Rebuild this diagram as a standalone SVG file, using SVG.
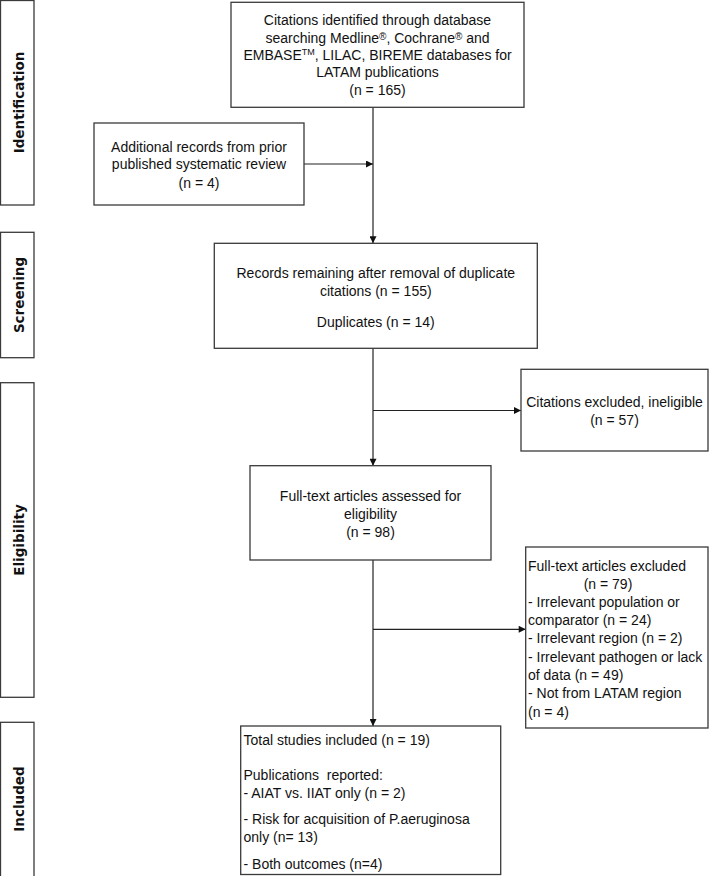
<svg xmlns="http://www.w3.org/2000/svg" width="709" height="876" viewBox="0 0 709 876">
<style>
.box{fill:#fff;stroke:#3a3a3a;stroke-width:1.3}
.lab{fill:#fff;stroke:#3a3a3a;stroke-width:1.3}
.t{font-family:"Liberation Sans",Arial,sans-serif;font-size:14px;fill:#111}
.c{text-anchor:middle}
.sup{font-size:10px}
.side{font-family:"DejaVu Sans",Verdana,sans-serif;font-weight:bold;font-size:13.5px;fill:#111;text-anchor:middle}
.ln{fill:none;stroke:#222;stroke-width:1.2}
</style>
<defs>
<marker id="ah" viewBox="0 0 10 10" refX="10" refY="5" markerWidth="8" markerHeight="7" markerUnits="userSpaceOnUse" orient="auto">
<path d="M0,0 L10,5 L0,10 z" fill="#111"/>
</marker>
</defs>
<rect width="709" height="876" fill="#fff"/>

<g id="lbl-identification">
<rect class="lab" x="0.5" y="0.5" width="33.5" height="204.5"/>
<text class="side" transform="translate(24,102.5) rotate(-90)">Identification</text>
</g>
<g id="lbl-screening">
<rect class="lab" x="0.5" y="232.3" width="33.5" height="125.4"/>
<text class="side" transform="translate(24,295) rotate(-90)">Screening</text>
</g>
<g id="lbl-eligibility">
<rect class="lab" x="0.5" y="382.7" width="33.5" height="314.6"/>
<text class="side" transform="translate(24,540) rotate(-90)">Eligibility</text>
</g>
<g id="lbl-included">
<rect class="lab" x="0.5" y="722.3" width="33.5" height="160"/>
<text class="side" transform="translate(24,799) rotate(-90)">Included</text>
</g>

<g id="connectors">
<line class="ln" x1="373" y1="107.3" x2="373" y2="243.3" marker-end="url(#ah)"/>
<line class="ln" x1="304" y1="164" x2="373" y2="164" marker-end="url(#ah)"/>
<line class="ln" x1="373" y1="348.3" x2="373" y2="465.7" marker-end="url(#ah)"/>
<line class="ln" x1="373" y1="410.5" x2="521" y2="410.5" marker-end="url(#ah)"/>
<line class="ln" x1="373" y1="560" x2="373" y2="726" marker-end="url(#ah)"/>
<line class="ln" x1="373" y1="629.3" x2="525.7" y2="629.3" marker-end="url(#ah)"/>
</g>

<g id="n-identified">
<rect class="box" x="231" y="2.3" width="293" height="105"/>
<text class="t c" x="377.5" y="25">Citations identified through database</text>
<text class="t c" x="377.5" y="42.7">searching Medline<tspan class="sup" dy="-3">®</tspan><tspan dy="3">, Cochrane</tspan><tspan class="sup" dy="-3">®</tspan><tspan dy="3"> and</tspan></text>
<text class="t c" x="377.5" y="60">EMBASE<tspan font-size="9" dy="-5">TM</tspan><tspan dy="5">, LILAC, BIREME databases for</tspan></text>
<text class="t c" x="377.5" y="77.3">LATAM publications</text>
<text class="t c" x="377.5" y="95">(n = 165)</text>
</g>

<g id="n-additional">
<rect class="box" x="94" y="123" width="210" height="82"/>
<text class="t c" x="199" y="151.7">Additional records from prior</text>
<text class="t c" x="199" y="169.3">published systematic review</text>
<text class="t c" x="199" y="187.7">(n = 4)</text>
</g>

<g id="n-screened">
<rect class="box" x="214.3" y="243.3" width="323" height="105"/>
<text class="t c" x="375.8" y="277.7">Records remaining after removal of duplicate</text>
<text class="t c" x="375.8" y="296">citations (n = 155)</text>
<text class="t c" x="375.8" y="326.7">Duplicates (n = 14)</text>
</g>

<g id="n-excluded1">
<rect class="box" x="521" y="369.3" width="187" height="81.7"/>
<text class="t c" x="614.5" y="407">Citations excluded, ineligible</text>
<text class="t c" x="614.5" y="425">(n = 57)</text>
</g>

<g id="n-fulltext">
<rect class="box" x="250" y="465.7" width="241" height="94.3"/>
<text class="t c" x="370.5" y="501">Full-text articles assessed for</text>
<text class="t c" x="370.5" y="519">eligibility</text>
<text class="t c" x="370.5" y="536.7">(n = 98)</text>
</g>

<g id="n-excluded2">
<rect class="box" x="525.7" y="547" width="182.3" height="181"/>
<text class="t" x="528" y="571">Full-text articles excluded</text>
<text class="t c" x="608" y="588.5">(n = 79)</text>
<text class="t" x="528" y="606.7">- Irrelevant population or</text>
<text class="t" x="528" y="625">comparator (n = 24)</text>
<text class="t" x="528" y="643">- Irrelevant region (n = 2)</text>
<text class="t" x="528" y="661.7">- Irrelevant pathogen or lack</text>
<text class="t" x="528" y="680">of data (n = 49)</text>
<text class="t" x="528" y="698">- Not from LATAM region</text>
<text class="t" x="528" y="716.7">(n = 4)</text>
</g>

<g id="n-included">
<rect class="box" x="240.7" y="726" width="260" height="148.5"/>
<text class="t" x="243.5" y="745">Total studies included (n = 19)</text>
<text class="t" x="243.5" y="780" style="white-space:pre">Publications  reported:</text>
<text class="t" x="243.5" y="797.7">- AIAT vs. IIAT only (n = 2)</text>
<text class="t" x="243.5" y="824.3">- Risk for acquisition of P.aeruginosa</text>
<text class="t" x="243.5" y="842.3">only (n= 13)</text>
<text class="t" x="243.5" y="869">- Both outcomes (n=4)</text>
</g>
</svg>
